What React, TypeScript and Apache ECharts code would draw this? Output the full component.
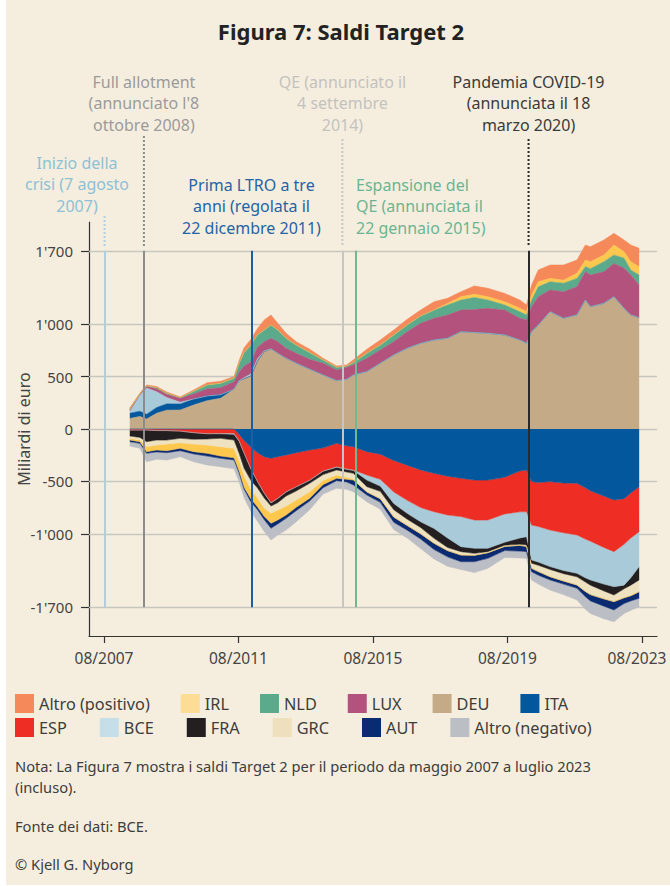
import React, { useEffect, useRef } from 'react';
import * as echarts from 'echarts';

const FONT = "'Noto Sans', 'DejaVu Sans', sans-serif";

// decimal years
const dates = [2008.35, 2008.65, 2008.85, 2009.15, 2009.45, 2009.85, 2010.25, 2010.65, 2011.05, 2011.45, 2011.6, 2011.75, 2011.95, 2012.15, 2012.35, 2012.55, 2012.75, 2013.0, 2013.3, 2013.7, 2014.1, 2014.5, 2014.8, 2015.0, 2015.4, 2015.8, 2016.2, 2016.6, 2017.0, 2017.4, 2017.8, 2018.2, 2018.6, 2019.0, 2019.5, 2019.95, 2020.15, 2020.3, 2020.5, 2020.85, 2021.25, 2021.65, 2021.9, 2022.05, 2022.45, 2022.75, 2023.05, 2023.25, 2023.5];

// Target 2 balances, billions of euro (signed)
const deu = [100, 120, 95, 150, 180, 181, 229, 270, 293, 380, 460, 480, 505, 650, 738, 765, 722, 674, 627, 570, 515, 461, 474, 515, 547, 627, 706, 770, 817, 849, 865, 928, 920, 913, 897, 849, 817, 928, 992, 1119, 1056, 1088, 1230, 1167, 1199, 1262, 1151, 1088, 1062];
const ita = [50, 50, 45, 55, 60, 57, 57, 45, 34, 0, -50, -110, -175, -226, -264, -280, -264, -248, -226, -200, -180, -137, -160, -169, -216, -240, -300, -345, -390, -423, -450, -470, -487, -487, -460, -400, -391, -502, -510, -502, -515, -518, -560, -590, -640, -677, -665, -610, -550];
const bce = [15, 150, 250, 150, 60, 17, 0, 0, -4, -10, -5, 10, 20, 20, 7, -2, -2, -2, -2, -3, -2, -5, -5, -4, -48, -65, -110, -125, -135, -160, -220, -287, -270, -270, -270, -250, -238, -334, -340, -349, -360, -366, -370, -370, -350, -334, -390, -380, -333];
const lux = [15, 10, 15, 30, 30, 38, 48, 67, 67, 70, 85, 110, 115, 110, 88, 100, 111, 96, 95, 95, 112, 102, 115, 96, 127, 127, 127, 158, 191, 207, 223, 207, 220, 238, 238, 207, 223, 239, 270, 207, 254, 269, 270, 302, 301, 318, 382, 381, 312];
const nld = [10, 5, 7, 10, 12, 7, 25, 38, 42, 35, 80, 130, 160, 120, 111, 127, 111, 95, 79, 65, 31, 26, 11, 22, 48, 47, 64, 64, 70, 79, 95, 95, 115, 79, 48, 63, 48, 63, 95, 79, 80, 80, 48, 61, 96, 80, 97, 48, 95];
const irl = [-16, -16, -47, -47, -64, -53, -73, -79, -89, -91, -100, -110, -90, -86, -79, -96, -95, -85, -70, -63, -40, -31, -20, -7, 0, 0, 0, 0, 0, 0, 15, 32, 30, 32, 31, 32, 32, 48, 48, 32, 30, 48, 64, 65, 64, 95, 61, 79, 79];
const altroPos = [10, 5, 8, 10, 10, 6, 13, 22, 19, 15, 25, 45, 55, 60, 96, 96, 64, 48, 32, 32, 16, 12, 11, 27, 38, 48, 47, 54, 57, 79, 49, 48, 80, 80, 80, 79, 63, 96, 112, 127, 144, 127, 143, 144, 143, 112, 112, 159, 176];
const esp = [-10, -10, -10, -15, -15, -20, -35, -45, -41, -40, -60, -120, -205, -276, -349, -423, -397, -350, -324, -287, -220, -223, -220, -222, -223, -240, -300, -335, -360, -366, -370, -366, -381, -381, -350, -390, -398, -414, -420, -462, -475, -493, -490, -480, -490, -493, -435, -430, -430];
const fra = [-57, -70, -111, -90, -90, -69, -63, -50, -44, -55, -115, -145, -110, -61, -46, -30, -40, -39, -39, -28, -33, -26, -25, -28, -63, -50, -60, -55, -55, -94, -90, -47, -48, -32, -30, -60, -80, -30, -30, -27, -30, -33, -40, -50, -65, -80, -35, -70, -127];
const grc = [-22, -25, -48, -48, -38, -42, -45, -58, -80, -79, -70, -70, -85, -95, -96, -69, -70, -96, -86, -80, -55, -48, -50, -57, -50, -70, -70, -60, -60, -47, -30, -32, -19, -10, -10, -10, -13, -49, -60, -69, -70, -78, -90, -90, -75, -63, -85, -100, -112];
const aut = [-16, -16, -16, -19, -19, -23, -22, -26, -22, -20, -20, -20, -30, -26, -32, -47, -38, -32, -32, -26, -30, -23, -25, -47, -30, -35, -50, -45, -50, -60, -60, -64, -61, -54, -40, -55, -50, -32, -35, -31, -30, -32, -50, -60, -70, -80, -55, -50, -63];
const altroNeg = [-41, -47, -80, -70, -70, -57, -74, -85, -80, -85, -80, -80, -90, -111, -112, -112, -105, -112, -105, -83, -60, -73, -70, -64, -63, -65, -70, -75, -90, -90, -90, -74, -104, -95, -65, -65, -64, -79, -85, -96, -100, -111, -120, -120, -120, -111, -95, -90, -80];

const yTicks = [-1700, -1000, -500, 0, 500, 1000, 1700];
const xTicks = [2007.583, 2011.583, 2015.583, 2019.583, 2023.583];

const eventDates = [2007.6, 2008.77, 2011.97, 2014.675, 2015.06, 2020.21];
const eventLabels = [
  'Inizio della\ncrisi (7 agosto\n2007)',
  "Full allotment\n(annunciato l'8\nottobre 2008)",
  'Prima LTRO a tre\nanni (regolata il\n22 dicembre 2011)',
  'QE (annunciato il\n4 settembre\n2014)',
  'Espansione del\nQE (annunciata il\n22 gennaio 2015)',
  'Pandemia COVID-19\n(annunciata il 18\nmarzo 2020)',
];

const legendRow1 = ['Altro (positivo)', 'IRL', 'NLD', 'LUX', 'DEU', 'ITA'];
const legendRow2 = ['ESP', 'BCE', 'FRA', 'GRC', 'AUT', 'Altro (negativo)'];

const noteLines = [
  'Nota: La Figura 7 mostra i saldi Target 2 per il periodo da maggio 2007 a luglio 2023',
  '(incluso).',
  'Fonte dei dati: BCE.',
  '© Kjell G. Nyborg',
];

// ---- styles ----
const COLORS: Record<string, string> = {
  'Altro (positivo)': '#f6895a',
  IRL: '#fec84e',
  NLD: '#5aaa8b',
  LUX: '#b4527e',
  DEU: '#c4aa86',
  ITA: '#02579d',
  ESP: '#ee2e24',
  BCE: '#a9cad9',
  FRA: '#231f20',
  GRC: '#efe2c0',
  AUT: '#0a2a72',
  'Altro (negativo)': '#bcbec5',
};
const LEGEND_COLORS: Record<string, string> = {
  ...COLORS,
  IRL: '#fddd96',
  BCE: '#c6dee7',
  GRC: '#eee0bd',
};
const EVENT_STYLE = [
  { line: '#a9d1e3', text: '#8ec0d6', dotTop: 216, tx: 77, ty: 184, align: 'center' },
  { line: '#8c8c8c', text: '#9b9b9b', dotTop: 136, tx: null, ty: 103, align: 'center' },
  { line: '#1c5ea3', text: '#2563a6', dotTop: null, tx: null, ty: 206, align: 'center' },
  { line: '#c6c6c6', text: '#c4c2bf', dotTop: 139, tx: null, ty: 103, align: 'center' },
  { line: '#6fb890', text: '#6bb592', dotTop: null, tx: 356, ty: 206, align: 'left' },
  { line: '#2a2a2a', text: '#3a3a3a', dotTop: 139, tx: null, ty: 103, align: 'center' },
];
const OFFX = 6; // chart div offset on the page
const TEXT = '#3d3d3d';

const posPart = (a: number[]) => a.map((v) => Math.max(v, 0));
const negPart = (a: number[]) => a.map((v) => Math.min(v, 0));

// data rows are [value, date] so that the stacked dimension is the value (y)
function area(name: string, values: number[], stack: string) {
  const color = COLORS[name];
  return {
    type: 'line',
    name,
    stack,
    stackStrategy: 'all',
    data: dates.map((d, i) => [values[i], d]),
    encode: { x: 1, y: 0 },
    symbol: 'none',
    showSymbol: false,
    lineStyle: { width: 0.6, color },
    itemStyle: { color },
    areaStyle: { color, opacity: 1 },
    silent: true,
    z: 2,
    emphasis: { disabled: true },
  };
}

function fmtY(v: number) {
  const s = String(Math.abs(v));
  const f = s.length > 3 ? s.slice(0, -3) + "'" + s.slice(-3) : s;
  return (v < 0 ? '-' : '') + f;
}

function fmtX(v: number) {
  const label = '08/' + Math.round(v - 0.583);
  return v > 2023 ? '{last|' + label + '}' : label;
}

function legend(names: string[], top: number, gap: number) {
  return {
    left: 15 - OFFX,
    top,
    padding: 0,
    orient: 'horizontal',
    itemGap: gap,
    itemWidth: 19,
    itemHeight: 19,
    icon: 'rect',
    selectedMode: false,
    textStyle: { fontFamily: FONT, fontSize: 16.3, color: TEXT },
    data: names.map((n) => ({ name: n, itemStyle: { color: LEGEND_COLORS[n], borderWidth: 0 } })),
  };
}

export default function App() {
  const ref = useRef<HTMLDivElement>(null);
  useEffect(() => {
    if (!ref.current) return;
    const chart = echarts.init(ref.current, null, { renderer: 'svg' });
    const series: any[] = [
      area('DEU', deu, 'pos'),
      area('ITA', posPart(ita), 'pos'),
      area('BCE', posPart(bce), 'pos'),
      area('LUX', lux, 'pos'),
      area('NLD', nld, 'pos'),
      area('IRL', posPart(irl), 'pos'),
      area('Altro (positivo)', altroPos, 'pos'),
      area('ITA', negPart(ita), 'neg'),
      area('ESP', esp, 'neg'),
      area('BCE', negPart(bce), 'neg'),
      area('FRA', fra, 'neg'),
      area('GRC', grc, 'neg'),
      area('IRL', negPart(irl), 'neg'),
      area('AUT', aut, 'neg'),
      area('Altro (negativo)', altroNeg, 'neg'),
      {
        type: 'line',
        name: '__grid',
        data: [],
        silent: true,
        markLine: {
          z: 1,
          silent: true,
          symbol: ['none', 'none'],
          label: { show: false },
          lineStyle: { color: '#c9c6c2', width: 1.3, type: 'solid' },
          data: yTicks.map((v) => ({ yAxis: v })),
        },
      },
      {
        type: 'line',
        name: '__events',
        data: [],
        silent: true,
        z: 10,
        markLine: {
          z: 10,
          silent: true,
          symbol: ['none', 'none'],
          label: { show: false },
          data: eventDates.map((d, i) => [
            { coord: [d, 1700], lineStyle: { color: EVENT_STYLE[i].line, width: 2, type: 'solid' } },
            { coord: [d, -1700] },
          ]),
        },
      },
    ];

    chart.setOption({
      animation: false,
      backgroundColor: '#f5eede',
      grid: {
        left: 89 - OFFX,
        right: 13,
        top: 222,
        bottom: 885 - 636,
        containLabel: false,
        outerBoundsMode: 'none',
      },
      xAxis: {
        type: 'value',
        min: 2007.137,
        max: 2024.03,
        axisLine: { show: true, onZero: false, lineStyle: { color: '#333', width: 1.2 } },
        axisTick: { show: true, length: 7, customValues: xTicks, lineStyle: { color: '#333', width: 1.2 } },
        axisLabel: {
          customValues: xTicks,
          margin: 14,
          fontFamily: FONT,
          fontSize: 15.5,
          color: '#444',
          formatter: fmtX,
          rich: {
            last: { fontFamily: FONT, fontSize: 15.5, color: '#444', padding: [0, 10, 0, 0] },
          },
        },
        splitLine: { show: false },
      },
      yAxis: {
        type: 'value',
        min: -1975,
        max: 1975,
        name: 'Miliardi di euro',
        nameLocation: 'middle',
        nameGap: 57,
        nameMoveOverlap: false,
        nameTextStyle: { fontFamily: FONT, fontSize: 16, color: '#444' },
        axisLine: { show: true, lineStyle: { color: '#333', width: 1.2 } },
        axisTick: { show: true, length: 8, customValues: yTicks, lineStyle: { color: '#333', width: 1.2 } },
        axisLabel: {
          customValues: yTicks,
          margin: 16,
          fontFamily: FONT,
          fontSize: 15,
          color: '#444',
          formatter: (v: number) => fmtY(v),
        },
        splitLine: { show: false },
      },
      legend: [legend(legendRow1, 694, 31), legend(legendRow2, 718, 33)],
      series,
    });

    const graphics: any[] = [
      {
        type: 'text',
        x: 341 - OFFX,
        y: 31,
        style: {
          text: 'Figura 7: Saldi Target 2',
          fill: '#222',
          fontFamily: FONT,
          fontWeight: 'bold',
          fontSize: 22,
          align: 'center',
          verticalAlign: 'middle',
        },
      },
    ];
    eventDates.forEach((d, i) => {
      const st = EVENT_STYLE[i];
      const p = chart.convertToPixel({ gridIndex: 0 }, [d, 1700]) as number[];
      const x = p[0];
      if (st.dotTop != null) {
        graphics.push({
          type: 'line',
          silent: true,
          shape: { x1: x, y1: st.dotTop, x2: x, y2: 246 },
          style: { stroke: st.line, lineWidth: 2, lineDash: [2, 2] },
        });
      }
      graphics.push({
        type: 'text',
        x: st.tx != null ? st.tx - OFFX : x,
        y: st.ty,
        style: {
          text: eventLabels[i],
          fill: st.text,
          fontFamily: FONT,
          fontSize: 16,
          lineHeight: 21.5,
          align: st.align,
          verticalAlign: 'middle',
        },
      });
    });
    const noteY = [766, 787, 826, 864];
    noteLines.forEach((t, i) => {
      graphics.push({
        type: 'text',
        x: 15 - OFFX,
        y: noteY[i],
        style: { text: t, fill: TEXT, fontFamily: FONT, fontSize: 14.7, align: 'left', verticalAlign: 'middle' },
      });
    });
    chart.setOption({ graphic: graphics });

    return () => chart.dispose();
  }, []);

  return (
    <div style={{ position: 'absolute', left: 0, top: 0, width: 670, height: 886, background: '#ffffff' }}>
      <div ref={ref} style={{ position: 'absolute', left: OFFX, top: 0, width: 664, height: 885 }} />
    </div>
  );
}
